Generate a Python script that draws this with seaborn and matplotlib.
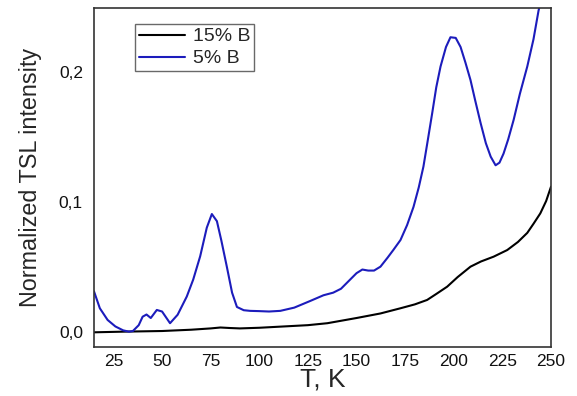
import numpy as np
import pandas as pd
import matplotlib
matplotlib.use("Agg")
import matplotlib.pyplot as plt
from matplotlib.ticker import FixedLocator, FixedFormatter
import seaborn as sns

# 5% B curve
t_5 = [15, 18, 22, 26, 30, 33, 35, 38, 40, 42, 44.2, 47.3, 50, 54.1, 58, 62.7, 66, 69.6, 73, 75.6, 78.2, 80.5, 83.3, 86,
       88.5, 92, 95.3, 100, 105, 110.8, 118, 126, 133, 138, 142, 146, 150, 153, 156, 159, 162.3, 166, 169, 172.6,
       176, 179.3, 182, 184.4, 186.5, 188.9, 191, 193.2, 196, 198.3, 201, 203.5, 206, 208.6, 211, 213.8, 216.5,
       219, 221.5, 223.5, 225.6, 228, 230.8, 234, 237.8, 241, 243.6, 246]
i_5 = [0.031, 0.018, 0.009, 0.004, 0.001, 0.0, 0.0005, 0.005, 0.0115, 0.0132, 0.0105, 0.0167, 0.0155, 0.0065, 0.013,
       0.027, 0.040, 0.058, 0.080, 0.0905, 0.085, 0.070, 0.050, 0.030, 0.019, 0.0165, 0.016, 0.0158, 0.0155, 0.016,
       0.0185, 0.0235, 0.028, 0.030, 0.033, 0.039, 0.045, 0.0478, 0.047, 0.047, 0.050, 0.057, 0.063, 0.0705,
       0.082, 0.096, 0.111, 0.127, 0.146, 0.168, 0.188, 0.204, 0.219, 0.2265, 0.226, 0.219, 0.207, 0.1936, 0.178,
       0.1605, 0.145, 0.1346, 0.128, 0.130, 0.137, 0.148, 0.163, 0.183, 0.204, 0.225, 0.247, 0.262]

# 15% B curve
t_15 = [15, 30, 50, 65, 75, 80, 85, 90, 100, 110, 125, 135, 150, 162.3, 172.6, 180, 186.3, 191, 196.6, 202,
        208.6, 214, 220.5, 227.5, 233, 237.8, 241, 244.5, 247.5, 250]
i_15 = [-0.0005, 0.0, 0.0005, 0.0015, 0.0025, 0.0032, 0.0028, 0.0025, 0.003, 0.0038, 0.005, 0.0065, 0.0105, 0.014,
        0.018, 0.021, 0.0244, 0.029, 0.0346, 0.042, 0.05, 0.054, 0.0577, 0.0628, 0.069, 0.076, 0.083, 0.091, 0.1005, 0.1115]

labels = ["15% B", "5% B"]
colors = ["#000000", "#1c1cbc"]

x_major = [50, 100, 150, 200, 250]
x_minor = [25, 75, 125, 175, 225]
y_major = [0.0, 0.1, 0.2]
y_major_labels = ["0,0", "0,1", "0,2"]
y_minor = [0.05, 0.15]

df = pd.concat([
    pd.DataFrame({"T": t_15, "I": i_15, "sample": labels[0]}),
    pd.DataFrame({"T": t_5, "I": i_5, "sample": labels[1]}),
])

sns.set_style("white")
plt.rcParams["font.family"] = ["Liberation Sans", "DejaVu Sans"]

fig = plt.figure(figsize=(5.77, 3.96), dpi=100)
ax = fig.add_axes([94 / 577, 1 - 347 / 396, (551 - 94) / 577, (347 - 8) / 396])

sns.lineplot(data=df, x="T", y="I", hue="sample", palette=dict(zip(labels, colors)),
             ax=ax, linewidth=1.5, sort=False, estimator=None)

ax.set_xlim(15, 250)
ax.set_ylim(-0.0118, 0.249)

ax.xaxis.set_major_locator(FixedLocator(x_major))
ax.xaxis.set_minor_locator(FixedLocator(x_minor))
ax.xaxis.set_major_formatter(FixedFormatter([str(v) for v in x_major]))
ax.xaxis.set_minor_formatter(FixedFormatter([str(v) for v in x_minor]))
ax.yaxis.set_major_locator(FixedLocator(y_major))
ax.yaxis.set_major_formatter(FixedFormatter(y_major_labels))
ax.yaxis.set_minor_locator(FixedLocator(y_minor))

ax.tick_params(axis="both", which="major", direction="in", length=5, width=1, labelsize=12.5,
               colors="#222222", labelcolor="#111111", pad=8)
ax.tick_params(axis="both", which="minor", direction="in", length=3, width=1, labelsize=12.5,
               colors="#222222", labelcolor="#111111", pad=8)
ax.tick_params(axis="x", which="both", pad=5)

for s in ax.spines.values():
    s.set_color("#333333")
    s.set_linewidth(1.2)

ax.set_xlabel("T, K", fontsize=19, labelpad=-1)
ax.set_ylabel("Normalized TSL intensity", fontsize=16.8, labelpad=12)

leg = ax.legend(loc="upper left", bbox_to_anchor=(0.089, 0.953), fontsize=14, frameon=True,
                fancybox=False, edgecolor="#444444", handlelength=2.4, handletextpad=0.4,
                borderpad=0.2, labelspacing=0.22, borderaxespad=0)
leg.get_frame().set_linewidth(1.0)

fig.savefig("out.png", dpi=100)
